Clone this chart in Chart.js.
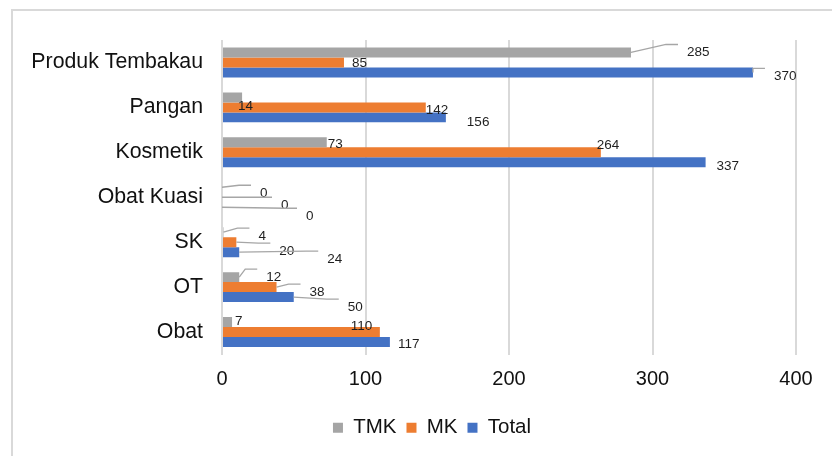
<!DOCTYPE html>
<html lang="id">
<head>
    <meta charset="UTF-8">
    <title>TMK / MK / Total</title>
    <style>
        html, body { margin: 0; padding: 0; background: #fff; overflow: hidden; }
        .frame { position: absolute; left: 11px; top: 9px; width: 900px; height: 500px;
                 border-top: 2px solid #d9d9d9; border-left: 2px solid #d9d9d9; }
        canvas { position: absolute; left: 0; top: 0; }
    </style>
</head>
<body>
    <div class="frame"></div>
    <canvas id="chart" width="832" height="456"></canvas>

    <script src="https://cdn.jsdelivr.net/npm/chart.js"></script>
    <script>
        // categories, top to bottom
        const categories = ['Produk Tembakau', 'Pangan', 'Kosmetik', 'Obat Kuasi', 'SK', 'OT', 'Obat'];

        // bar lengths as drawn
        const tmkValues   = [285, 14, 73, 0, 1, 12, 7];
        const mkValues    = [85, 142, 264, 0, 10, 38, 110];
        const totalValues = [370, 156, 337, 0, 12, 50, 117];

        // numbers printed on the labels
        const tmkLabels   = ['285', '14', '73', '0', '4', '12', '7'];
        const mkLabels    = ['85', '142', '264', '0', '20', '38', '110'];
        const totalLabels = ['370', '156', '337', '0', '24', '50', '117'];

        const xTicks = [0, 100, 200, 300, 400];

        const FONT = 'Arial, "Liberation Sans", sans-serif';

        // label placement: [dx from bar end, dy from bar centre, leader line?]
        const labelNudge = [
            [[56, 0, 1], [-4, 9, 0], [1, 2, 0], [38, 6, 1], [35, 4, 1], [27, 0, 1], [3, -1, 0]],
            [[8, 1, 0], [0, 3, 0], [-4, -7, 0], [59, 8, 1], [43, 9, 1], [33, 5, 1], [-29, -6, 0]],
            [[21, 4, 1], [21, 5, 0], [11, 4, 0], [84, 9, 1], [88, 7, 1], [54, 10, 1], [8, 2, 0]]
        ];
        const allLabels = [tmkLabels, mkLabels, totalLabels];

        const dataLabels = {
            id: 'dataLabels',
            afterDatasetsDraw(chart) {
                const ctx = chart.ctx;
                ctx.save();
                ctx.font = '13.5px ' + FONT;
                ctx.textAlign = 'left';
                ctx.textBaseline = 'middle';
                chart.data.datasets.forEach((ds, i) => {
                    const meta = chart.getDatasetMeta(i);
                    meta.data.forEach((bar, j) => {
                        const [dx, dy, lead] = labelNudge[i][j];
                        const tx = bar.x + dx;
                        const ty = bar.y + dy;
                        if (lead) {
                            const boxL = tx - 9;
                            const boxT = ty - 8;
                            ctx.strokeStyle = '#a6a6a6';
                            ctx.lineWidth = 1.3;
                            ctx.beginPath();
                            ctx.moveTo(bar.x, bar.y);
                            ctx.lineTo(Math.max(bar.x, boxL - 12), boxT);
                            ctx.lineTo(boxL, boxT);
                            ctx.stroke();
                        }
                        ctx.fillStyle = '#1f1f1f';
                        ctx.fillText(allLabels[i][j], tx, ty);
                    });
                });
                ctx.restore();
            }
        };

        // the legend sits centred on the outer frame, a little right of the canvas centre
        const legendShift = {
            id: 'legendShift',
            afterLayout(chart) {
                chart.legend.left += 24;
                chart.legend.right += 24;
            }
        };

        new Chart(document.getElementById('chart'), {
            type: 'bar',
            data: {
                labels: categories,
                datasets: [
                    { label: 'TMK', data: tmkValues, backgroundColor: '#a5a5a5' },
                    { label: 'MK', data: mkValues, backgroundColor: '#ed7d31' },
                    { label: 'Total', data: totalValues, backgroundColor: '#4472c4' }
                ]
            },
            options: {
                indexAxis: 'y',
                responsive: false,
                animation: false,
                barPercentage: 1,
                categoryPercentage: 2 / 3,
                layout: { padding: { left: 20, right: 36, top: 40, bottom: 8 } },
                scales: {
                    x: {
                        min: 0,
                        max: 400,
                        afterBuildTicks(scale) { scale.ticks = xTicks.map(v => ({ value: v })); },
                        afterFit(scale) { scale.height = 53; },
                        grid: { color: '#d9d9d9', lineWidth: 2, drawTicks: false },
                        border: { display: false },
                        ticks: { padding: 13, color: '#111', font: { family: FONT, size: 20 } }
                    },
                    y: {
                        afterFit(scale) { scale.width = 202; },
                        grid: { display: false, drawTicks: false },
                        border: { display: false },
                        ticks: { padding: 19, color: '#111', font: { family: FONT, size: 21.3 } }
                    }
                },
                plugins: {
                    legend: {
                        position: 'bottom',
                        labels: {
                            boxWidth: 10,
                            boxHeight: 10,
                            padding: 10,
                            color: '#111',
                            font: { family: FONT, size: 20.5 }
                        }
                    },
                    tooltip: { enabled: false }
                }
            },
            plugins: [dataLabels, legendShift]
        });
    </script>
</body>
</html>
